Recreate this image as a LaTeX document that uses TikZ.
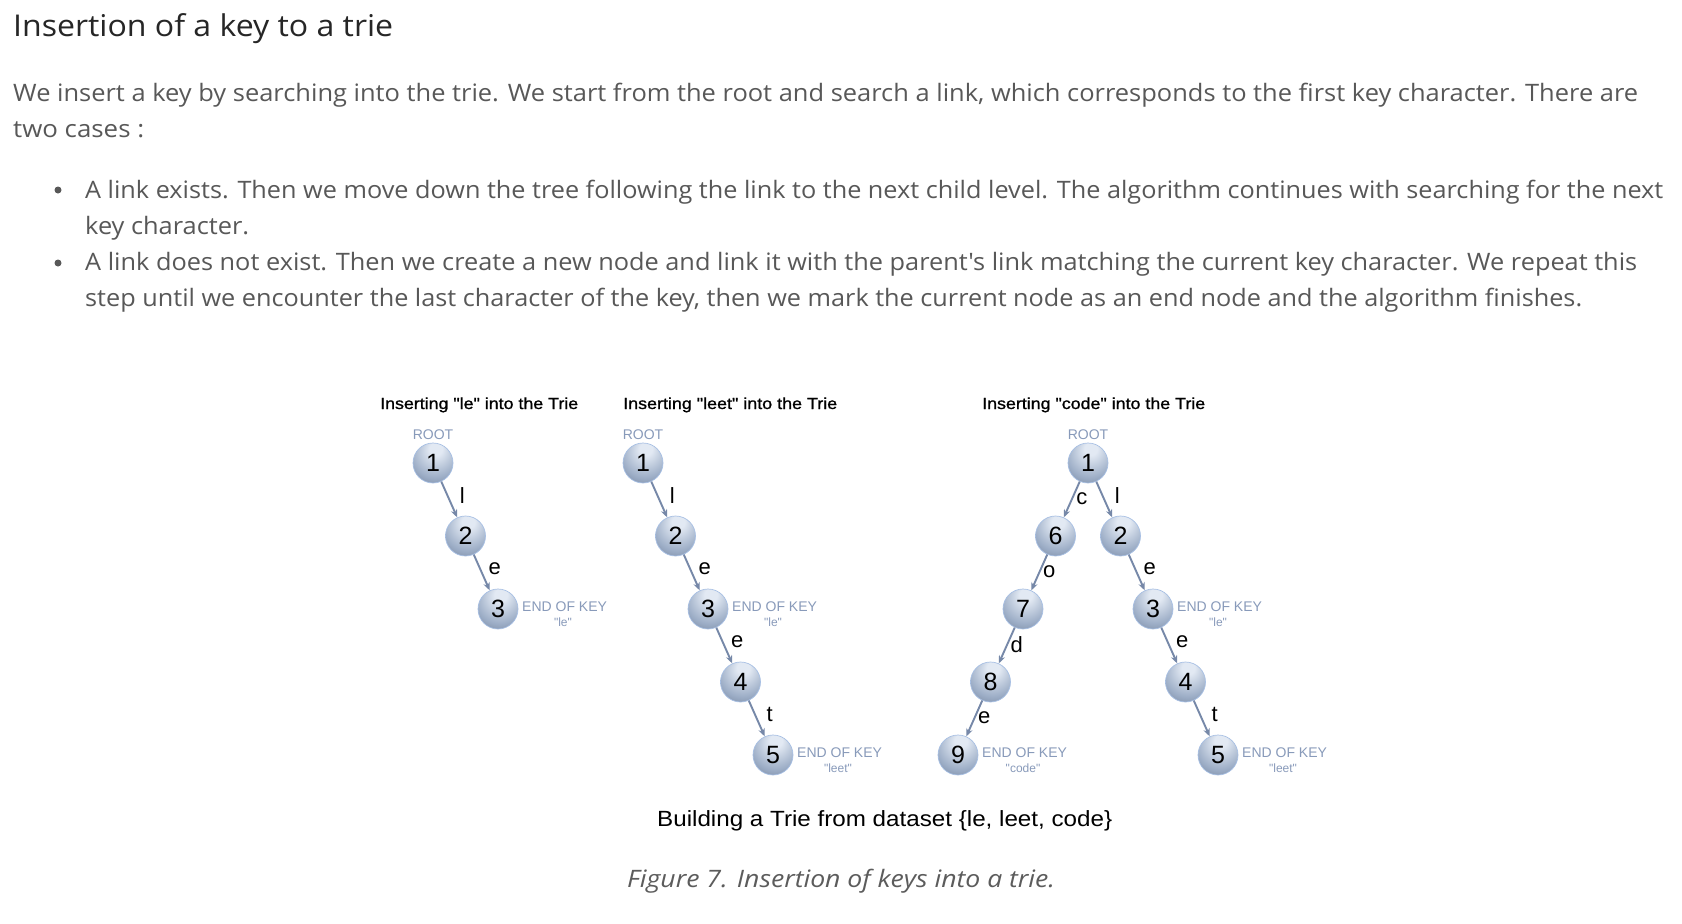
\documentclass[tikz,border=0pt]{standalone}
\usepackage{fontspec}
\usepackage{graphicx}
\setmainfont{Open Sans}[Ligatures=TeXOff]
\newfontfamily\uif{Open Sans}[Ligatures=TeXOff]
\newfontfamily\arialf{Liberation Sans}[Ligatures=TeXOff]
\newfontfamily\arialb{Liberation Sans}[Ligatures=TeXOff,FakeBold=1]
\usetikzlibrary{arrows.meta}

\definecolor{bodygray}{RGB}{88,88,88}
\definecolor{headgray}{RGB}{38,38,38}
\definecolor{capgray}{RGB}{92,92,92}
\definecolor{lblblue}{RGB}{136,154,186}
\definecolor{edgeblue}{RGB}{118,136,168}
\definecolor{rimblue}{RGB}{168,192,228}
\definecolor{bhi}{RGB}{226,233,243}
\definecolor{bmid}{RGB}{156,173,198}
\definecolor{bdark}{RGB}{80,94,118}

\pgfdeclareradialshading{trieball}{\pgfpoint{4bp}{20bp}}{color(0bp)=(bhi); color(8bp)=(bhi); color(30bp)=(bmid); color(56bp)=(bdark); color(70bp)=(bdark)}

\newsavebox\fitbox
\newcommand\fitto[2]{\sbox\fitbox{#2}\scalebox{\fpeval{(#1)/(\the\wd\fitbox)}}[1]{\usebox\fitbox}}

\tikzset{
  ball/.style={circle, minimum size=40pt, inner sep=0pt, shading=trieball, draw=rimblue, line width=0.7pt, font=\arialf\fontsize{25}{25}\selectfont, text=black},
  trieedge/.style={draw=edgeblue, line width=1.9pt, -{Stealth[length=8pt,width=6.5pt]}},
  elabel/.style={font=\arialf\fontsize{22}{22}\selectfont, text=black, inner sep=0pt},
  rootlbl/.style={font=\arialf\fontsize{14}{14}\selectfont, text=lblblue, inner sep=0pt},
  eok/.style={font=\arialf\fontsize{14}{14}\selectfont, text=lblblue, inner sep=0pt, anchor=west},
  eokq/.style={font=\arialf\fontsize{12}{12}\selectfont, text=lblblue, inner sep=0pt},
  ttl/.style={font=\arialb\fontsize{16}{16}\selectfont, text=black, inner sep=0pt, anchor=base west},
  bodytxt/.style={font=\uif\fontsize{24}{24}\selectfont, text=bodygray, inner sep=0pt, anchor=base west},
  bdot/.style={circle, fill=bodygray, inner sep=0pt, minimum size=7pt},
  rs/.style={shift={(13,-4)}},
  ls/.style={shift={(10,-1)}}
}

\begin{document}
\begin{tikzpicture}[x=1pt,y=-1pt]
\fill[white] (0,0) rectangle (1682,924);
\useasboundingbox (0,0) rectangle (1682,924);

% ---------- text ----------
\node[font=\uif\fontsize{30}{30}\selectfont, text=headgray, inner sep=0pt, anchor=base west] (head) at (13,36) {\fitto{380}{Insertion of a key to a trie}};
\node[bodytxt] (p1) at (13,101) {\fitto{1625}{We insert a key by searching into the trie. We start from the root and search a link, which corresponds to the first key character. There are}};
\node[bodytxt] (p2) at (13,137) {\fitto{131}{two cases :}};
\node[bdot] (d1) at (58,190) {};
\node[bodytxt] (b1a) at (85,198) {\fitto{1578}{A link exists. Then we move down the tree following the link to the next child level. The algorithm continues with searching for the next}};
\node[bodytxt] (b1b) at (85,234) {\fitto{164}{key character.}};
\node[bdot] (d2) at (58,263) {};
\node[bodytxt] (b2a) at (85,270) {\fitto{1552}{A link does not exist. Then we create a new node and link it with the parent's link matching the current key character. We repeat this}};
\node[bodytxt] (b2b) at (85,306) {\fitto{1497}{step until we encounter the last character of the key, then we mark the current node as an end node and the algorithm finishes.}};

% ---------- titles ----------
\node[ttl] (t1) at (380,409) {\fitto{198}{Inserting "le" into the Trie}};
\node[ttl] (t2) at (623,409) {\fitto{214}{Inserting "leet" into the Trie}};
\node[ttl] (t3) at (982,409) {\fitto{223}{Inserting "code" into the Trie}};

% ---------- tree 1 ----------
\node[ball] (a1) at (433,463) {1};
\node[ball] (a2) at (465.5,536) {2};
\node[ball] (a3) at (498,609) {3};
\node[rootlbl] (ar) at (433,435) {ROOT};
\node[eok] (ae3) at (522,607) {END OF KEY};
\node[eokq] (aq3) at (563,622) {"le"};
\draw[trieedge] (a1) -- node[elabel, rs] {l} (a2);
\draw[trieedge] (a2) -- node[elabel, rs] {e} (a3);

% ---------- tree 2 ----------
\node[ball] (b1) at (643,463) {1};
\node[ball] (b2) at (675.5,536) {2};
\node[ball] (b3) at (708,609) {3};
\node[ball] (b4) at (740.5,682) {4};
\node[ball] (b5) at (773,755) {5};
\node[rootlbl] (br) at (643,435) {ROOT};
\node[eok] (be3) at (732,607) {END OF KEY};
\node[eokq] (bq3) at (773,622) {"le"};
\node[eok] (be5) at (797,753) {END OF KEY};
\node[eokq] (bq5) at (838,768) {"leet"};
\draw[trieedge] (b1) -- node[elabel, rs] {l} (b2);
\draw[trieedge] (b2) -- node[elabel, rs] {e} (b3);
\draw[trieedge] (b3) -- node[elabel, rs] {e} (b4);
\draw[trieedge] (b4) -- node[elabel, rs] {t} (b5);

% ---------- tree 3 ----------
\node[ball] (c1) at (1088,463) {1};
\node[ball] (c6) at (1055.5,536) {6};
\node[ball] (c2) at (1120.5,536) {2};
\node[ball] (c7) at (1023,609) {7};
\node[ball] (c3) at (1153,609) {3};
\node[ball] (c8) at (990.5,682) {8};
\node[ball] (c4) at (1185.5,682) {4};
\node[ball] (c9) at (958,755) {9};
\node[ball] (c5) at (1218,755) {5};
\node[rootlbl] (cr) at (1088,435) {ROOT};
\node[eok] (ce3) at (1177,607) {END OF KEY};
\node[eokq] (cq3) at (1218,622) {"le"};
\node[eok] (ce9) at (982,753) {END OF KEY};
\node[eokq] (cq9) at (1023,768) {"code"};
\node[eok] (ce5) at (1242,753) {END OF KEY};
\node[eokq] (cq5) at (1283,768) {"leet"};
\draw[trieedge] (c1) -- node[elabel, ls] {c} (c6);
\draw[trieedge] (c6) -- node[elabel, ls] {o} (c7);
\draw[trieedge] (c7) -- node[elabel, ls] {d} (c8);
\draw[trieedge] (c8) -- node[elabel, ls] {e} (c9);
\draw[trieedge] (c1) -- node[elabel, rs] {l} (c2);
\draw[trieedge] (c2) -- node[elabel, rs] {e} (c3);
\draw[trieedge] (c3) -- node[elabel, rs] {e} (c4);
\draw[trieedge] (c4) -- node[elabel, rs] {t} (c5);

% ---------- captions ----------
\node[font=\arialf\fontsize{22}{22}\selectfont, text=black, inner sep=0pt, anchor=base west] (cap) at (657,826) {\fitto{455}{Building a Trie from dataset \{le, leet, code\}}};
\node[font=\uif\itshape\fontsize{24}{24}\selectfont, text=capgray, inner sep=0pt, anchor=base west] (fig) at (627,887) {\fitto{428}{Figure 7. Insertion of keys into a trie.}};
\end{tikzpicture}
\end{document}
